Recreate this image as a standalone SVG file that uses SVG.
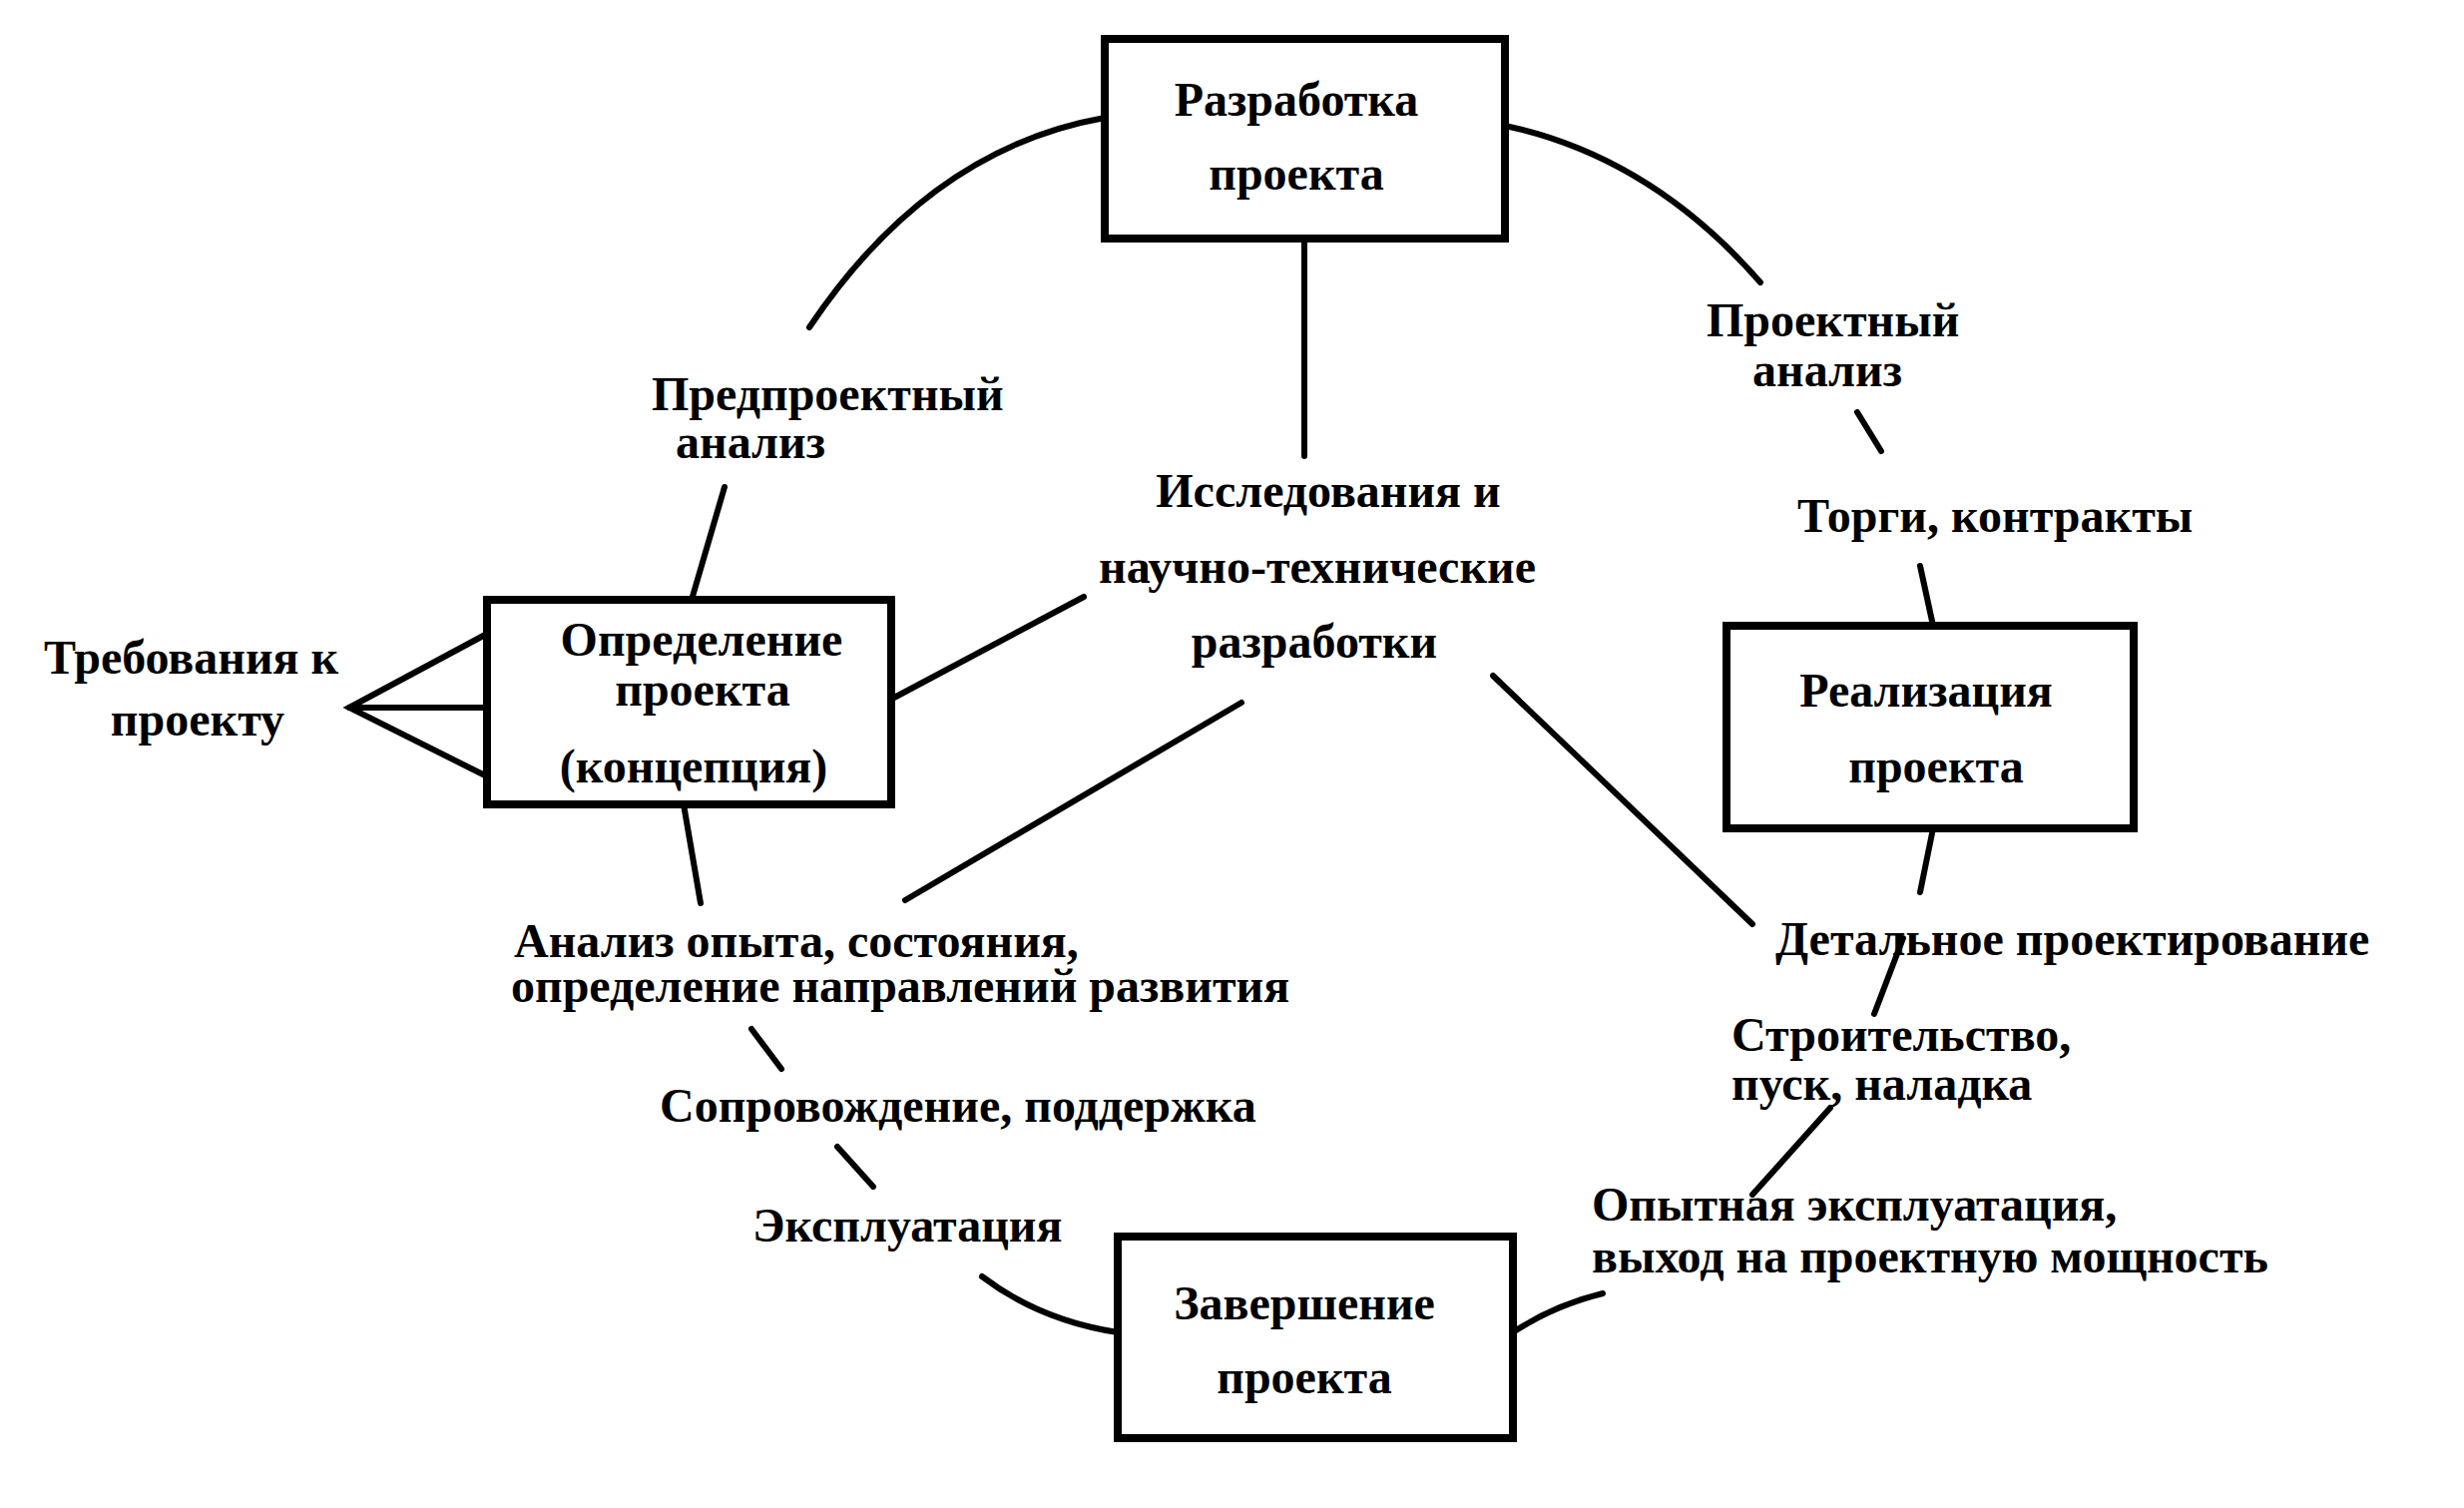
<svg xmlns="http://www.w3.org/2000/svg" width="2469" height="1511" viewBox="0 0 2469 1511">
<style>
.bg{fill:#fff}
.box{fill:#fff;stroke:#000;stroke-width:8}
.ln{fill:none;stroke:#000;stroke-width:6;stroke-linecap:round}
text{font-family:"Liberation Serif","Times New Roman",serif;font-weight:bold;font-size:48px;fill:#000}
.m{text-anchor:middle}
</style>
<rect class="bg" x="0" y="0" width="2469" height="1511"/>
<g id="connectors">
<path class="ln" d="M1107,118 Q931,149 811,328"/>
<path class="ln" d="M1508,126 Q1654,157 1764,283"/>
<path class="ln" d="M984,1279 Q1042,1323 1120,1335"/>
<path class="ln" d="M1606,1296 Q1557,1308 1516,1335"/>
<line class="ln" x1="1307" y1="239" x2="1307" y2="457"/>
<line class="ln" x1="1861" y1="413" x2="1885" y2="452"/>
<line class="ln" x1="1924" y1="567" x2="1937" y2="627"/>
<line class="ln" x1="726" y1="488" x2="693" y2="601"/>
<line class="ln" x1="896" y1="699" x2="1086" y2="598"/>
<polyline class="ln" points="488,635 350,709 488,778"/>
<line class="ln" x1="350" y1="709" x2="488" y2="709"/>
<line class="ln" x1="685" y1="806" x2="702" y2="905"/>
<line class="ln" x1="907" y1="902" x2="1244" y2="704"/>
<line class="ln" x1="1496" y1="677" x2="1756" y2="926"/>
<line class="ln" x1="1937" y1="830" x2="1924" y2="894"/>
<line class="ln" x1="1907" y1="940" x2="1878" y2="1016"/>
<line class="ln" x1="1834" y1="1110" x2="1756" y2="1197"/>
<line class="ln" x1="753" y1="1031" x2="783" y2="1071"/>
<line class="ln" x1="839" y1="1149" x2="875" y2="1189"/>
</g>
<g id="node-razrabotka">
<rect class="box" x="1107" y="39" width="401" height="200"/>
<text class="m" x="1299" y="116">Разработка</text>
<text class="m" x="1299" y="190">проекта</text>
</g>
<g id="node-opredelenie">
<rect class="box" x="488" y="601" width="405" height="205"/>
<text class="m" x="703" y="657">Определение</text>
<text class="m" x="704" y="707">проекта</text>
<text class="m" x="695" y="784">(концепция)</text>
</g>
<g id="node-realizaciya">
<rect class="box" x="1730" y="627" width="408" height="203"/>
<text class="m" x="1930" y="708">Реализация</text>
<text class="m" x="1940" y="784">проекта</text>
</g>
<g id="node-zavershenie">
<rect class="box" x="1120" y="1239" width="396" height="202"/>
<text class="m" x="1307" y="1322">Завершение</text>
<text class="m" x="1307" y="1396">проекта</text>
</g>
<g id="label-predproekt">
<text x="653" y="411">Предпроектный</text>
<text x="677" y="459">анализ</text>
</g>
<g id="label-proekt-analiz">
<text x="1710" y="337">Проектный</text>
<text x="1756" y="387">анализ</text>
</g>
<g id="label-issledovaniya">
<text class="m" x="1331" y="508">Исследования и</text>
<text class="m" x="1320" y="584">научно-технические</text>
<text class="m" x="1317" y="659">разработки</text>
</g>
<g id="label-torgi">
<text x="1801" y="533">Торги, контракты</text>
</g>
<g id="label-trebovaniya">
<text x="44" y="675">Требования к</text>
<text class="m" x="198" y="737">проекту</text>
</g>
<g id="label-analiz-opyta">
<text x="515" y="959">Анализ опыта, состояния,</text>
<text x="512" y="1004">определение направлений развития</text>
</g>
<g id="label-detalnoe">
<text x="1779" y="957">Детальное проектирование</text>
</g>
<g id="label-stroitelstvo">
<text x="1735" y="1053">Строительство,</text>
<text x="1735" y="1102">пуск, наладка</text>
</g>
<g id="label-soprovozhdenie">
<text x="661" y="1124">Сопровождение, поддержка</text>
</g>
<g id="label-ekspluataciya">
<text x="754" y="1244">Эксплуатация</text>
</g>
<g id="label-opytnaya">
<text x="1595" y="1223">Опытная эксплуатация,</text>
<text x="1595" y="1275">выход на проектную мощность</text>
</g>
</svg>
